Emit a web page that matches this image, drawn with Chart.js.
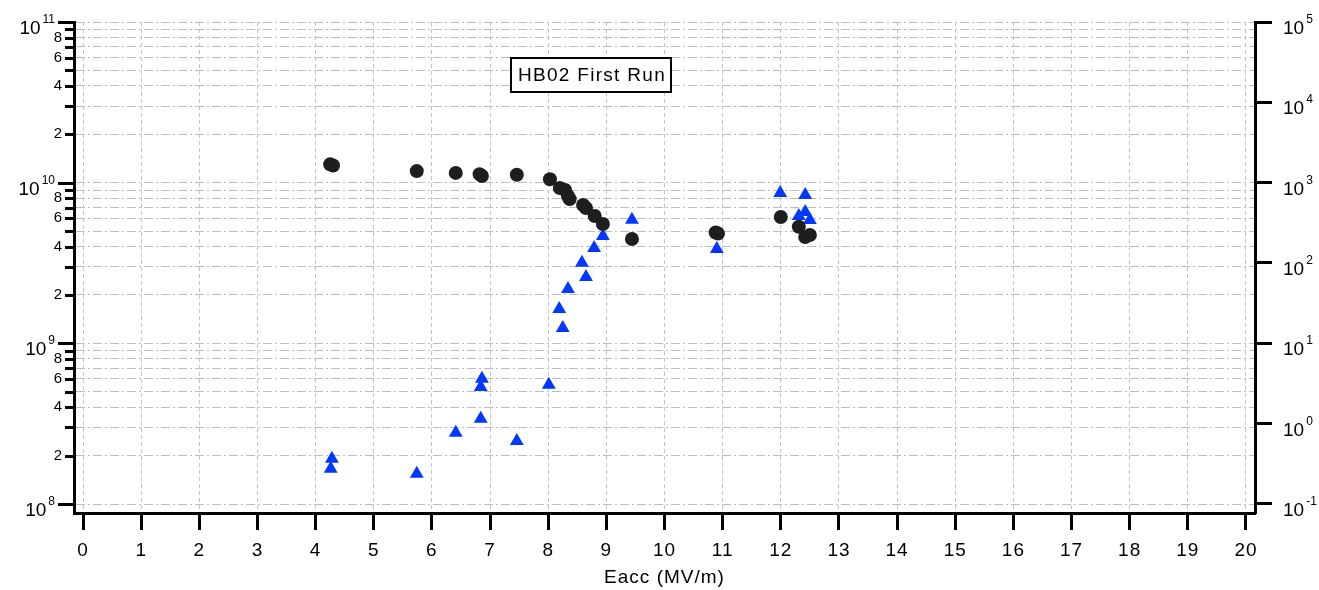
<!DOCTYPE html>
<html>
<head>
<meta charset="utf-8">
<title>HB02 First Run</title>
<script src="https://cdn.jsdelivr.net/npm/chart.js@4.4.1/dist/chart.umd.min.js"></script>
<style>
    body { margin: 0; background: #fff; }
    #wrap { width: 1319px; height: 590px; }
</style>
</head>
<body>
<div id="wrap"><canvas id="hb02_Chart" width="1319" height="590"></canvas></div>
<script>
// Q0 vs Eacc (left axis, black circles)
const q0Eacc = [4.25, 4.30, 5.74, 6.41, 6.82, 6.86, 7.46, 8.03, 8.20, 8.29, 8.34, 8.37,
                8.60, 8.65, 8.80, 8.94, 9.44, 10.88, 10.92, 12.00, 12.31, 12.42, 12.50];
const q0Values = [1.30e10, 1.28e10, 1.18e10, 1.15e10, 1.13e10, 1.10e10, 1.12e10, 1.05e10, 9.27e9, 9.0e9, 8.26e9, 7.9e9,
                  7.26e9, 6.95e9, 6.2e9, 5.53e9, 4.46e9, 4.9e9, 4.82e9, 6.11e9, 5.32e9, 4.59e9, 4.72e9];

// radiation vs Eacc (right axis, blue triangles)
const radEacc = [4.28, 4.26, 5.74, 6.41, 6.84, 6.84, 6.86, 7.46, 8.01, 8.19, 8.25, 8.34,
                 8.58, 8.65, 8.79, 8.94, 9.44, 10.90, 11.99, 12.42, 12.42, 12.31, 12.50];
const radValues = [0.366, 0.275, 0.238, 0.771, 1.15, 2.86, 3.63, 0.608, 3.05, 26.7, 15.5, 47.4,
                   101, 67, 154, 217, 346, 149, 743, 702, 431, 385, 343];

// axes
const xTicks = [0, 1, 2, 3, 4, 5, 6, 7, 8, 9, 10, 11, 12, 13, 14, 15, 16, 17, 18, 19, 20];
const q0Decades = [1e8, 1e9, 1e10, 1e11];
const q0Minor = [2, 3, 4, 5, 6, 7, 8, 9];
const q0MinorLabels = [2, 4, 6, 8];
const radDecades = [1e-1, 1e0, 1e1, 1e2, 1e3, 1e4, 1e5];
const xTitle = 'Eacc (MV/m)';
const boxText = 'HB02 First Run';

const FONT = '"Liberation Sans", Arial, sans-serif';
const q0Ticks = q0Decades.flatMap(d => [d].concat(d < 1e11 ? q0Minor.map(m => m * d) : []));

function decadeOf(v) {
    return Math.pow(10, Math.floor(Math.log10(v) + 1e-9));
}

function drawPow(ctx, v, x, y, align) {
    const exp = String(Math.round(Math.log10(v)));
    ctx.font = '19px ' + FONT;
    const wBase = ctx.measureText('10').width;
    ctx.font = '12px ' + FONT;
    const wExp = ctx.measureText(exp).width;
    const x0 = align === 'right' ? x - wExp - 2 - wBase : x;
    ctx.textAlign = 'left';
    ctx.textBaseline = 'alphabetic';
    ctx.font = '19px ' + FONT;
    ctx.fillText('10', x0, y + 12);
    ctx.font = '12px ' + FONT;
    ctx.fillText(exp, x0 + wBase + 2, y + 1);
}

const axisDecor = {
    id: 'axisDecor',
    beforeDraw(chart) {
        chart.ctx.letterSpacing = '1px';
    },
    afterDraw(chart) {
        const ctx = chart.ctx;
        const yl = chart.scales.yQ;
        const yr = chart.scales.yRad;
        const area = chart.chartArea;
        ctx.save();
        ctx.letterSpacing = '0px';
        // left ticks: long at decades, short at minors
        ctx.strokeStyle = '#000';
        ctx.lineWidth = 3;
        yl.ticks.forEach(t => {
            const y = Math.round(yl.getPixelForValue(t.value)) + 0.5;
            const major = Math.abs(t.value / decadeOf(t.value) - 1) < 1e-6;
            ctx.beginPath();
            ctx.moveTo(area.left - (major ? 16 : 9), y);
            ctx.lineTo(area.left, y);
            ctx.stroke();
        });
        // power-of-ten labels
        ctx.fillStyle = '#000';
        q0Decades.forEach(d => drawPow(ctx, d, area.left - 19, yl.getPixelForValue(d), 'right'));
        radDecades.forEach(d => drawPow(ctx, d, area.right + 28, yr.getPixelForValue(d), 'left'));
        // text box
        const bx = area.left + 437, by = 58, bw = 160, bh = 34;
        ctx.fillStyle = '#fff';
        ctx.fillRect(bx, by, bw, bh);
        ctx.strokeStyle = '#000';
        ctx.lineWidth = 2;
        ctx.strokeRect(bx, by, bw, bh);
        ctx.fillStyle = '#000';
        ctx.letterSpacing = '1.3px';
        ctx.font = '19px ' + FONT;
        ctx.textAlign = 'center';
        ctx.textBaseline = 'middle';
        ctx.fillText(boxText, bx + bw / 2 + 1, by + bh / 2 + 1);
        ctx.restore();
    }
};

const ctx_hb = document.getElementById('hb02_Chart').getContext('2d');
new Chart(ctx_hb, {
    type: 'scatter',
    data: {
        datasets: [{
            label: 'Q0',
            yAxisID: 'yQ',
            data: q0Eacc.map((x, i) => ({x: x, y: q0Values[i]})),
            pointStyle: 'circle',
            pointRadius: 7,
            pointBackgroundColor: '#1e1e1e',
            pointBorderWidth: 0
        }, {
            label: 'Radiation',
            yAxisID: 'yRad',
            data: radEacc.map((x, i) => ({x: x, y: radValues[i]})),
            pointStyle: 'triangle',
            pointRadius: 8,
            pointBackgroundColor: '#0038ff',
            pointBorderWidth: 0
        }]
    },
    options: {
        responsive: false,
        animation: false,
        events: [],
        layout: { padding: { top: 22, left: 0, right: 0, bottom: 0 } },
        plugins: {
            legend: { display: false },
            tooltip: { enabled: false }
        },
        scales: {
            x: {
                type: 'linear',
                position: 'bottom',
                min: -0.155,
                max: 20.155,
                afterBuildTicks: s => { s.ticks = xTicks.map(v => ({value: v})); },
                afterFit: s => { s.height = 77; },
                grid: {
                    color: '#c4c4c4',
                    lineWidth: 1,
                    tickColor: '#000',
                    tickWidth: 3,
                    tickLength: 17,
                    tickBorderDash: []
                },
                border: { color: '#000', width: 3, dash: [4, 3] },
                ticks: {
                    autoSkip: false,
                    maxRotation: 0,
                    padding: 9,
                    color: '#000',
                    font: { family: FONT, size: 19 },
                    callback: v => String(v)
                },
                title: {
                    display: true,
                    text: xTitle,
                    color: '#000',
                    font: { family: FONT, size: 19 },
                    padding: { top: 0, bottom: 1 }
                }
            },
            yQ: {
                type: 'logarithmic',
                position: 'left',
                min: 8.79e7,
                max: 1e11,
                afterBuildTicks: s => { s.ticks = q0Ticks.map(v => ({value: v})); },
                afterFit: s => { s.width = 74; },
                grid: {
                    color: '#bdbdbd',
                    lineWidth: 1,
                    drawTicks: false
                },
                border: { color: '#000', width: 3, dash: [9, 3, 2, 3] },
                ticks: {
                    autoSkip: false,
                    padding: 11,
                    color: '#000',
                    font: { family: FONT, size: 15 },
                    callback: function(value) {
                        const m = Math.round(value / decadeOf(value));
                        return q0MinorLabels.includes(m) ? String(m) : '';
                    }
                }
            },
            yRad: {
                type: 'logarithmic',
                position: 'right',
                min: 0.0772,
                max: 1e5,
                afterBuildTicks: s => { s.ticks = radDecades.map(v => ({value: v})); },
                afterFit: s => { s.width = 64; },
                grid: {
                    drawOnChartArea: false,
                    color: '#000',
                    tickColor: '#000',
                    tickWidth: 3,
                    tickLength: 17,
                    tickBorderDash: []
                },
                border: { color: '#000', width: 3 },
                ticks: {
                    autoSkip: false,
                    font: { family: FONT, size: 15 },
                    callback: () => ''
                }
            }
        }
    },
    plugins: [axisDecor]
});
</script>
</body>
</html>
